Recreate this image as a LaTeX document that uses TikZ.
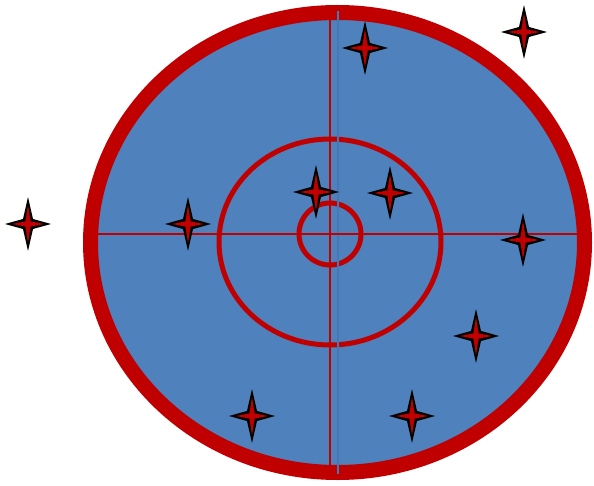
\documentclass[tikz,border=0pt]{standalone}
\usepackage{xcolor}
\usepackage{tikz}
\definecolor{targetred}{HTML}{C00000}
\definecolor{targetblue}{HTML}{4F81BD}
\definecolor{seamblue}{HTML}{4677B6}
\tikzset{
  rim/.style={draw=targetred, line width=15pt, fill=targetblue},
  ring/.style={draw=targetred, line width=5pt},
  hair/.style={draw=targetred, line width=2pt},
  seam/.style={draw=seamblue, line width=1.5pt},
  star/.pic={
    \fill[black] (0,-27) -- (5,-5) -- (23,0) -- (5,5) -- (0,27) -- (-5,5) -- (-23,0) -- (-5,-5) -- cycle;
    \fill[targetred] (0,-19) -- (2.6,-2.6) -- (16,0) -- (2.6,2.6) -- (0,19) -- (-2.6,2.6) -- (-16,0) -- (-2.6,-2.6) -- cycle;
  }
}

\begin{document}
\begin{tikzpicture}[x=1pt, y=-1pt]
		\useasboundingbox (0,0) rectangle (594,486);
		\coordinate (C) at (337.5,242.5);
		\coordinate (O) at (330,234);
		% target
		\draw[rim] (C) ellipse [x radius=247, y radius=230];
		\draw[ring] (330,242) ellipse [x radius=111, y radius=103];
		\draw[ring] (O) circle (31);
		\draw[seam] (338,11) -- (338,474);
		% cross hairs
		\draw[hair] (98,234) -- (577,234);
		\draw[hair] (330,18) -- (330,468);
		% stars
		\foreach \x/\y in {365/48, 524/32, 28/224, 188/224, 316/192, 390/193, 523/240, 476/336, 252/416, 412/416}
			\pic at (\x,\y) {star};
	\end{tikzpicture}
\end{document}
